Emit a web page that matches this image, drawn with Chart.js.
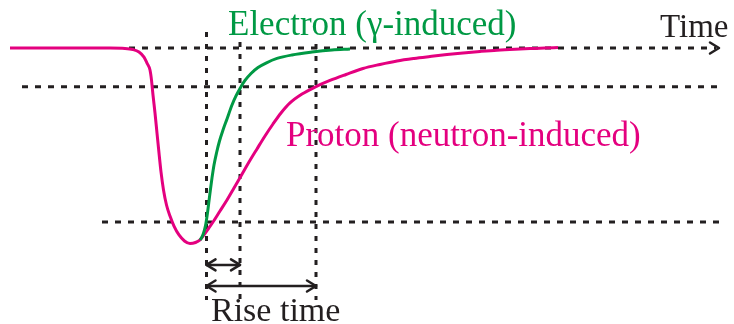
<!DOCTYPE html>
<html>
<head>
<meta charset="utf-8">
<title>Rise time of proton and electron pulses</title>
<script src="https://cdn.jsdelivr.net/npm/chart.js@4/dist/chart.umd.min.js"></script>
<style>
  html, body { margin: 0; padding: 0; background: #fff; }
  #wrap { width: 734px; height: 324px; }
</style>
</head>
<body>
<div id="wrap"><canvas id="pulse"></canvas></div>
<script>
// time (arbitrary units) and normalised amplitude of each pulse
const protonTime = [1.0, 6.0, 11.0, 12.5, 13.3, 13.9, 14.4, 14.7, 15.0, 15.15, 15.3, 15.5, 15.7, 15.9,
  16.1, 16.35, 16.65, 17.0, 17.4, 17.9, 18.45, 19.0, 19.55, 20.0, 20.4, 20.85, 21.3, 22.0, 22.7, 23.4,
  24.1, 24.9, 25.7, 26.5, 27.3, 28.1, 29.0, 30.2, 31.5, 33.0, 34.6, 36.3, 38.0, 39.7, 41.4, 43.0, 44.7,
  46.3, 48.0, 49.7, 51.5, 53.0, 54.5, 55.8];
const protonAmp = [0, 0, 0, -0.002, -0.008, -0.021, -0.047, -0.078, -0.114, -0.166, -0.243, -0.336, -0.44,
  -0.543, -0.641, -0.734, -0.812, -0.869, -0.921, -0.967, -0.998, -1.011, -1.006, -0.993, -0.967, -0.934,
  -0.9, -0.843, -0.786, -0.724, -0.662, -0.59, -0.522, -0.455, -0.393, -0.336, -0.284, -0.238, -0.202,
  -0.168, -0.137, -0.106, -0.085, -0.067, -0.054, -0.044, -0.034, -0.026, -0.018, -0.011, -0.006, -0.003,
  0, 0.002];

const electronTime = [20.0, 20.25, 20.45, 20.6, 20.75, 20.9, 21.05, 21.2, 21.4, 21.65, 21.95, 22.3, 22.7,
  23.2, 23.6, 24.0, 24.5, 25.1, 25.8, 26.6, 27.7, 29.2, 31.2, 33.2, 35.0];
const electronAmp = [-0.993, -0.972, -0.941, -0.905, -0.853, -0.791, -0.729, -0.672, -0.605, -0.543, -0.481,
  -0.424, -0.367, -0.295, -0.248, -0.209, -0.168, -0.132, -0.101, -0.078, -0.054, -0.036, -0.021, -0.01,
  -0.005];

// reference levels: baseline, 20 % and 90 % of the peak
const levelAmp = [0, -0.2, -0.9];
const levelStart = [12.9, 2.2, 10.2];
const levelEnd = [71.6, 71.8, 72.0];

// start of the pulse, end of the electron rise, end of the proton rise
const markTime = [20.65, 24.0, 31.6];
const markTop = [0.083, 0.031, 0.021];
const markBottom = -1.303;

// rise-time arrows: [from, to, amplitude]
const riseArrows = [[20.65, 24.0, -1.122], [20.65, 31.6, -1.231]];

const pink = '#e4007f';
const green = '#009944';
const ink = '#231f20';
const serif = '"Liberation Serif", "Times New Roman", serif';

function toPoints(xs, ys) {
  return xs.map((x, i) => ({ x: x, y: ys[i] }));
}

const datasets = [
  {
    data: toPoints(electronTime, electronAmp),
    borderColor: green, borderWidth: 3, cubicInterpolationMode: 'monotone'
  },
  {
    data: toPoints(protonTime, protonAmp),
    borderColor: pink, borderWidth: 3, cubicInterpolationMode: 'monotone'
  }
];

levelAmp.forEach((a, i) => {
  datasets.push({
    data: [{ x: levelStart[i], y: a }, { x: levelEnd[i], y: a }],
    borderColor: ink, borderWidth: 3, borderDash: [6, 7]
  });
});

markTime.forEach((t, i) => {
  datasets.push({
    data: [{ x: t, y: markTop[i] }, { x: t, y: markBottom }],
    borderColor: ink, borderWidth: 3, borderDash: [5, 7]
  });
});

function head(ctx, x, y, dir) {
  ctx.beginPath();
  ctx.moveTo(x - dir * 9, y - 5.5);
  ctx.lineTo(x, y);
  ctx.lineTo(x - dir * 9, y + 5.5);
  ctx.stroke();
}

const annotations = {
  id: 'annotations',
  afterDatasetsDraw(chart) {
    const { ctx, scales: { x, y } } = chart;
    ctx.save();
    ctx.strokeStyle = ink;
    ctx.lineWidth = 2.5;
    ctx.lineCap = 'round';
    ctx.lineJoin = 'round';

    // arrow head on the time axis
    head(ctx, x.getPixelForValue(levelEnd[0]) + 3, y.getPixelForValue(levelAmp[0]), 1);

    riseArrows.forEach(([t0, t1, a]) => {
      const x0 = x.getPixelForValue(t0);
      const x1 = x.getPixelForValue(t1);
      const py = y.getPixelForValue(a);
      ctx.beginPath();
      ctx.moveTo(x0, py);
      ctx.lineTo(x1, py);
      ctx.stroke();
      head(ctx, x0, py, -1);
      head(ctx, x1, py, 1);
    });

    ctx.textBaseline = 'alphabetic';
    ctx.textAlign = 'left';
    ctx.font = '35px ' + serif;
    ctx.fillStyle = green;
    ctx.fillText('Electron (\u03b3-induced)', 228, 35);
    ctx.fillStyle = pink;
    ctx.fillText('Proton (neutron-induced)', 286, 146);
    ctx.fillStyle = ink;
    ctx.font = '33px ' + serif;
    ctx.fillText('Time', 660, 37);
    ctx.font = '34px ' + serif;
    ctx.fillText('Rise time', 211, 321);
    ctx.restore();
  }
};

new Chart(document.getElementById('pulse'), {
  type: 'scatter',
  data: { datasets: datasets },
  options: {
    responsive: true,
    maintainAspectRatio: false,
    animation: false,
    showLine: true,
    layout: { padding: 0 },
    elements: { point: { radius: 0, hoverRadius: 0 } },
    plugins: { legend: { display: false }, tooltip: { enabled: false } },
    scales: {
      x: { type: 'linear', display: false, min: 0, max: 73.4 },
      y: { type: 'linear', display: false, min: -1.4276, max: 0.2483 }
    }
  },
  plugins: [annotations]
});
</script>
</body>
</html>
